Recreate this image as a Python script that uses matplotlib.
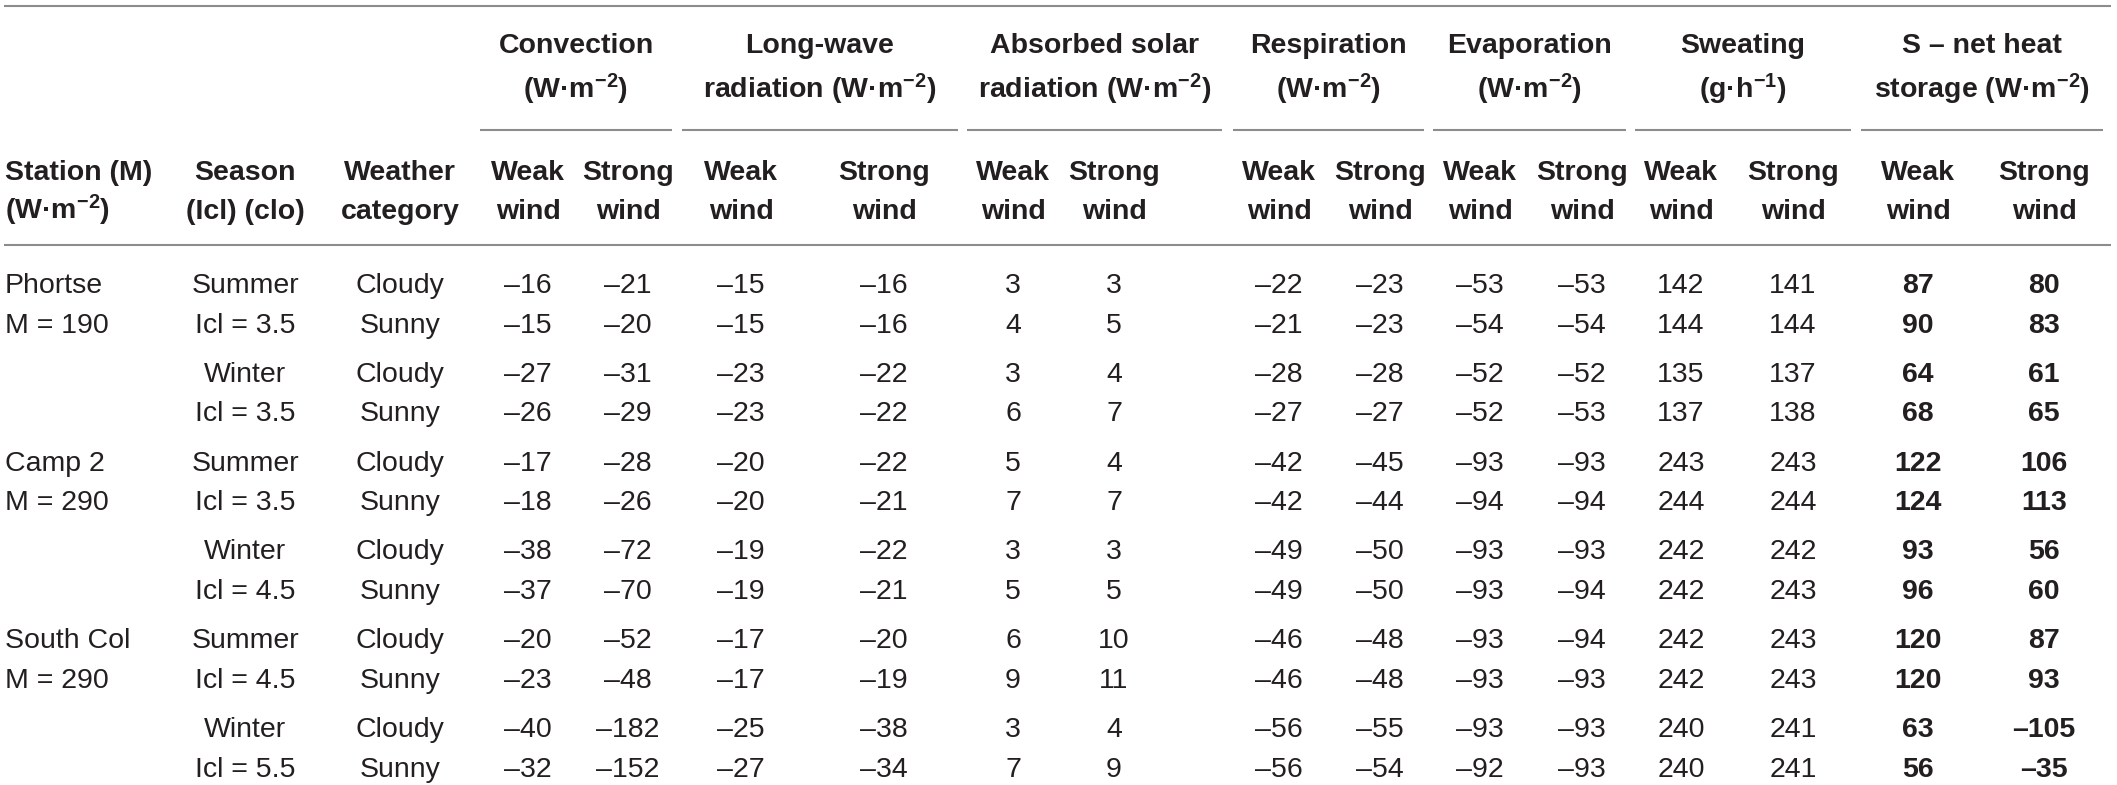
import matplotlib
matplotlib.use('Agg')
import matplotlib.pyplot as plt

# values (W·m-2 unless noted)
stations = ['Phortse', 'Camp 2', 'South Col']
station_m = ['M = 190', 'M = 290', 'M = 290']
seasons = ['Summer', 'Winter', 'Summer', 'Winter', 'Summer', 'Winter']
icl = ['Icl = 3.5', 'Icl = 3.5', 'Icl = 3.5', 'Icl = 4.5', 'Icl = 4.5', 'Icl = 5.5']
weather = ['Cloudy', 'Sunny']

convection_weak = [-16, -15, -27, -26, -17, -18, -38, -37, -20, -23, -40, -32]
convection_strong = [-21, -20, -31, -29, -28, -26, -72, -70, -52, -48, -182, -152]
longwave_weak = [-15, -15, -23, -23, -20, -20, -19, -19, -17, -17, -25, -27]
longwave_strong = [-16, -16, -22, -22, -22, -21, -22, -21, -20, -19, -38, -34]
solar_weak = [3, 4, 3, 6, 5, 7, 3, 5, 6, 9, 3, 7]
solar_strong = [3, 5, 4, 7, 4, 7, 3, 5, 10, 11, 4, 9]
resp_weak = [-22, -21, -28, -27, -42, -42, -49, -49, -46, -46, -56, -56]
resp_strong = [-23, -23, -28, -27, -45, -44, -50, -50, -48, -48, -55, -54]
evap_weak = [-53, -54, -52, -52, -93, -94, -93, -93, -93, -93, -93, -92]
evap_strong = [-53, -54, -52, -53, -93, -94, -93, -94, -94, -93, -93, -93]
sweat_weak = [142, 144, 135, 137, 243, 244, 242, 242, 242, 242, 240, 240]
sweat_strong = [141, 144, 137, 138, 243, 244, 242, 243, 243, 243, 241, 241]
storage_weak = [87, 90, 64, 68, 122, 124, 93, 96, 120, 120, 63, 56]
storage_strong = [80, 83, 61, 65, 106, 113, 56, 60, 87, 93, -105, -35]

group_titles = [
    ('Convection', '(W·m$^{-2}$)'),
    ('Long-wave', 'radiation (W·m$^{-2}$)'),
    ('Absorbed solar', 'radiation (W·m$^{-2}$)'),
    ('Respiration', '(W·m$^{-2}$)'),
    ('Evaporation', '(W·m$^{-2}$)'),
    ('Sweating', '(g·h$^{-1}$)'),
    ('S – net heat', 'storage (W·m$^{-2}$)'),
]
group_values = [
    (convection_weak, convection_strong),
    (longwave_weak, longwave_strong),
    (solar_weak, solar_strong),
    (resp_weak, resp_strong),
    (evap_weak, evap_strong),
    (sweat_weak, sweat_strong),
    (storage_weak, storage_strong),
]

# layout in pixels
W, H = 2117, 785
col_x = [(528, 628), (741, 884), (1013, 1114), (1279, 1380),
         (1480, 1582), (1681, 1793), (1918, 2044)]
group_span = [(480, 672), (682, 958), (967, 1222), (1233, 1424),
              (1433, 1626), (1635, 1851), (1861, 2103)]
x_station, x_season, x_weather = 5, 245, 400

plt.rcParams['font.family'] = ['Liberation Sans', 'DejaVu Sans']
plt.rcParams['mathtext.fontset'] = 'custom'
plt.rcParams['mathtext.rm'] = 'Liberation Sans:bold'
plt.rcParams['mathtext.it'] = 'Liberation Sans:bold'
plt.rcParams['mathtext.bf'] = 'Liberation Sans:bold'

fs = 20.5
ink = '#231f20'
rule = '#8c8c8c'

fig = plt.figure(figsize=(W / 100, H / 100), dpi=100)
ax = fig.add_axes([0, 0, 1, 1])
ax.set_xlim(0, W)
ax.set_ylim(H, 0)
ax.axis('off')

def txt(x, y, s, ha='center', bold=False):
    ax.text(x, y, s, ha=ha, va='baseline', fontsize=fs, color=ink,
            fontweight='bold' if bold else 'normal')

# rules
ax.plot([4, 2111], [6, 6], color=rule, lw=1.5, solid_capstyle='butt')
ax.plot([4, 2111], [245, 245], color=rule, lw=1.5, solid_capstyle='butt')
for x0, x1 in group_span:
    ax.plot([x0, x1], [130, 130], color=rule, lw=1.5, solid_capstyle='butt')

# header
txt(x_station, 180, 'Station (M)', ha='left', bold=True)
txt(x_station, 219, '(W·m$^{-2}$)', ha='left', bold=True)
txt(x_season, 180, 'Season', bold=True)
txt(x_season, 219, '(Icl) (clo)', bold=True)
txt(x_weather, 180, 'Weather', bold=True)
txt(x_weather, 219, 'category', bold=True)
for (t1, t2), (x0, x1), (xw, xs) in zip(group_titles, group_span, col_x):
    xc = (x0 + x1) / 2
    txt(xc, 53, t1, bold=True)
    txt(xc, 98, t2, bold=True)
    txt(xw, 180, 'Weak', bold=True)
    txt(xw, 219, 'wind', bold=True)
    txt(xs, 180, 'Strong', bold=True)
    txt(xs, 219, 'wind', bold=True)

def fmt(v):
    return str(v).replace('-', '–')

# body
y0, pair_gap, row_gap = 293, 88.8, 39.6
for r in range(12):
    p, w = divmod(r, 2)
    y = y0 + p * pair_gap + w * row_gap
    if p % 2 == 0:
        txt(x_station, y, [stations, station_m][w][p // 2], ha='left')
    txt(x_season, y, [seasons, icl][w][p])
    txt(x_weather, y, weather[w])
    for g, ((weak, strong), (xw, xs)) in enumerate(zip(group_values, col_x)):
        bold = g == len(group_values) - 1
        txt(xw, y, fmt(weak[r]), bold=bold)
        txt(xs, y, fmt(strong[r]), bold=bold)

fig.savefig('out.png', dpi=100)
